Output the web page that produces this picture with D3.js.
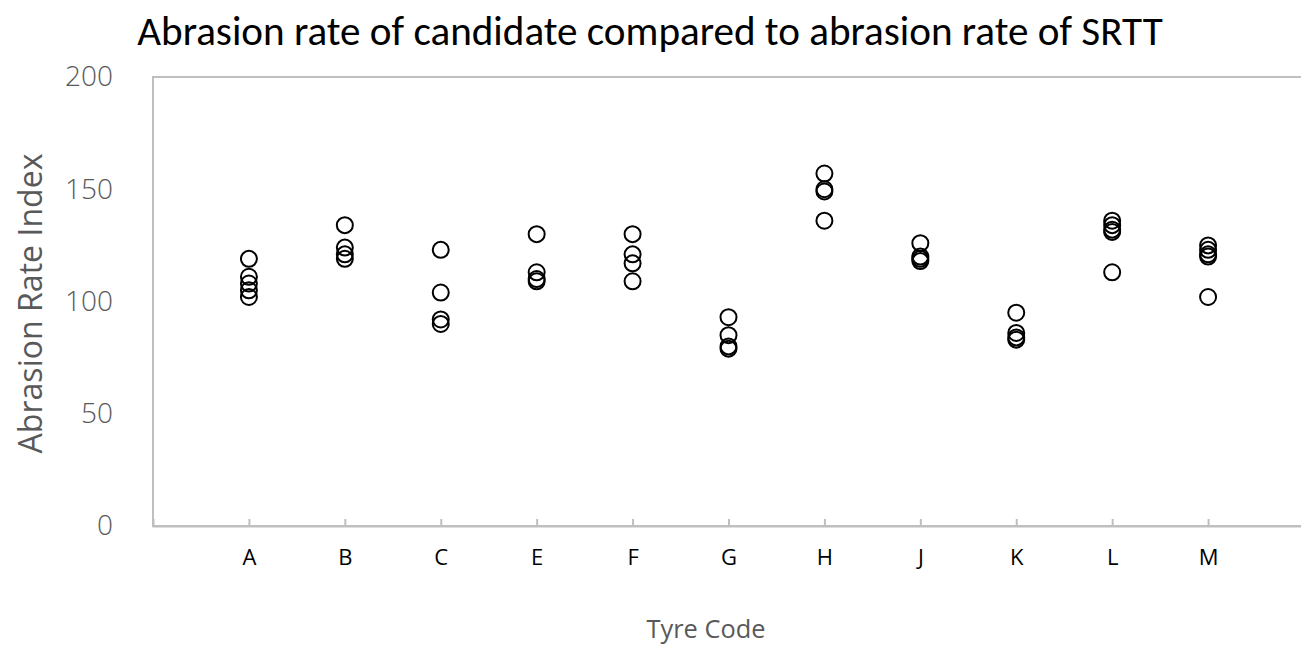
<!DOCTYPE html>
<html>
<head>
<meta charset="utf-8">
<script src="https://cdn.jsdelivr.net/npm/d3@7"></script>
<style>
  html, body { margin: 0; padding: 0; background: #fff; overflow: hidden; }
  svg { display: block; }
</style>
</head>
<body>
<svg id="chart" width="1301" height="657"></svg>
<script>
// Tyre codes along the x axis (positions 1..11)
const tyreCodes = ["A", "B", "C", "E", "F", "G", "H", "J", "K", "L", "M"];

// Abrasion rate index of each test run, per tyre code
const runsA = [119, 111, 108, 105, 102];
const runsB = [134, 124, 121, 119];
const runsC = [123, 104, 92, 90];
const runsE = [130, 113, 110, 109];
const runsF = [130, 121, 117, 109];
const runsG = [93, 85, 80, 79];
const runsH = [157, 150, 149, 136];
const runsJ = [126, 120, 119, 118];
const runsK = [95, 86, 84, 83];
const runsL = [136, 134, 132, 131, 113];
const runsM = [125, 123, 121, 120, 102];

const yTicks = [0, 50, 100, 150, 200];

const titleText = "Abrasion rate of candidate compared to abrasion rate of SRTT";
const xTitle = "Tyre Code";
const yTitle = "Abrasion Rate Index";

const allRuns = [runsA, runsB, runsC, runsE, runsF, runsG, runsH, runsJ, runsK, runsL, runsM];
const points = [];
allRuns.forEach((runs, i) => runs.forEach(v => points.push({ code: tyreCodes[i], pos: i + 1, value: v })));

const svg = d3.select("#chart");
const plot = { left: 153, right: 1304, top: 77, bottom: 526 };

const x = d3.scaleLinear().domain([0, tyreCodes.length + 1]).range([plot.left, plot.right]);
const y = d3.scaleLinear().domain([0, 200]).range([plot.bottom, plot.top]);

const grey = "#bfbfbf";
const labelGrey = "#595959";
const uiFont = "'Open Sans', 'Noto Sans', sans-serif";

// Scale a text element's font size so its rendered width equals the target
function fitWidth(sel, target) {
  const node = sel.node();
  const fs = parseFloat(sel.attr("font-size"));
  const w = node.getComputedTextLength();
  sel.attr("font-size", (fs * target / w).toFixed(2));
}

// Title
const title = svg.append("text")
  .attr("x", 650).attr("y", 45)
  .attr("text-anchor", "middle")
  .attr("font-family", "Carlito, 'Liberation Sans', sans-serif")
  .attr("font-size", 26)
  .attr("fill", "#000")
  .text(titleText);
fitWidth(title, 1026);

// Plot-area frame; its right side runs past the page edge
svg.append("rect")
  .attr("x", plot.left).attr("y", plot.top)
  .attr("width", plot.right - plot.left).attr("height", plot.bottom - plot.top)
  .attr("fill", "none").attr("stroke", grey).attr("stroke-width", 2);

// Y axis labels (no tick marks)
const yAxis = d3.axisLeft(y).tickValues(yTicks).tickSize(0).tickPadding(40);
const yG = svg.append("g").attr("transform", `translate(${plot.left},0)`).call(yAxis);
yG.select(".domain").remove();
yG.selectAll("text")
  .attr("font-family", uiFont).attr("font-size", 28).attr("font-weight", 300).attr("fill", labelGrey);

// X axis with short inward ticks
const xAxis = d3.axisBottom(x)
  .tickValues(d3.range(1, tyreCodes.length + 1))
  .tickFormat(d => tyreCodes[d - 1])
  .tickSize(-7).tickPadding(23);
const xG = svg.append("g").attr("transform", `translate(0,${plot.bottom})`).call(xAxis);
xG.select(".domain").attr("stroke", grey).attr("stroke-width", 2);
xG.selectAll(".tick line").attr("stroke", grey).attr("stroke-width", 2);
xG.selectAll("text")
  .attr("font-family", uiFont).attr("font-size", 22).attr("fill", "#000");

// Axis titles
const xt = svg.append("text")
  .attr("x", 706).attr("y", 638)
  .attr("text-anchor", "middle")
  .attr("font-family", uiFont).attr("font-size", 24).attr("fill", labelGrey)
  .text(xTitle);
fitWidth(xt, 119);

const yt = svg.append("text")
  .attr("transform", `translate(42,${(plot.top + plot.bottom) / 2 + 2}) rotate(-90)`)
  .attr("text-anchor", "middle")
  .attr("font-family", uiFont).attr("font-size", 26).attr("fill", labelGrey)
  .text(yTitle);
fitWidth(yt, 300);

// Data points as open circles
svg.append("g").selectAll("circle")
  .data(points)
  .join("circle")
  .attr("cx", d => x(d.pos))
  .attr("cy", d => y(d.value))
  .attr("r", 8)
  .attr("fill", "none")
  .attr("stroke", "#000")
  .attr("stroke-width", 2);
</script>
</body>
</html>
